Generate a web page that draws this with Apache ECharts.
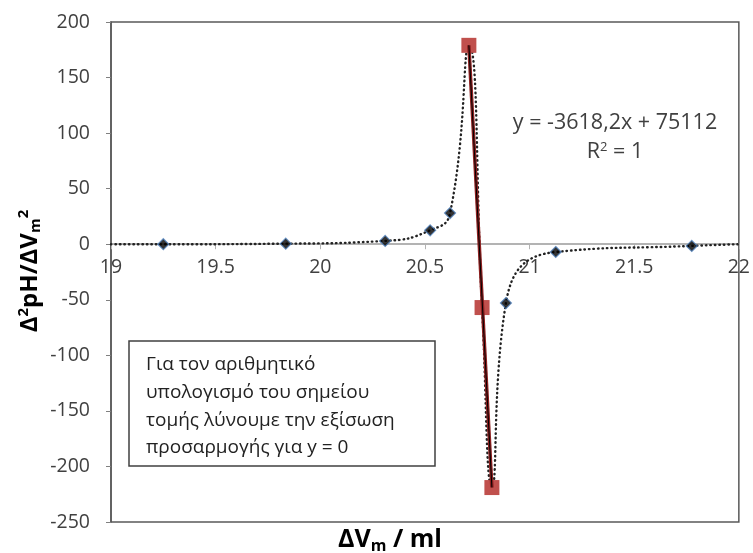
<!DOCTYPE html>
<html>
<head>
<meta charset="utf-8">
<script src="https://cdn.jsdelivr.net/npm/echarts@6/dist/echarts.min.js"></script>
<style>html,body{margin:0;padding:0;background:#fff}#c{width:753px;height:553px}</style>
</head>
<body>
<div id="c"></div>
<script>
// Data
const blueX = [19.25, 19.835, 20.31, 20.525, 20.62, 20.887, 21.125, 21.775];
const blueY = [0, 0.5, 3, 12.5, 28, -53, -7, -1.5];
const redX = [20.71, 20.773, 20.82];
const redY = [179, -57, -219];
const curveX = [19, 19.25, 19.835, 20.31, 20.525, 20.62, 20.71, 20.773, 20.82, 20.887, 21.125, 21.775, 22];
const curveY = [0, 0, 0.5, 3, 12.5, 28, 179, -57, -219, -53, -7, -1.5, 0];
const trend = {slope: -3618.2, intercept: 75112};
const eqText = 'y = -3618,2x + 75112';
const boxLines = ['Για τον αριθμητικό', 'υπολογισμό του σημείου', 'τομής λύνουμε την εξίσωση', 'προσαρμογής για y = 0'];
const xTicks = {min: 19, max: 22, interval: 0.5};
const yTicks = {min: -250, max: 200, interval: 50};

const zip = (a, b) => a.map((v, i) => [v, b[i]]);
const tx0 = Math.min(...redX), tx1 = Math.max(...redX);
const trendData = [[tx0, trend.slope * tx0 + trend.intercept], [tx1, trend.slope * tx1 + trend.intercept]];

const FONT = '"Open Sans", sans-serif';
const GRID = {left: 111, right: 11, top: 22, bottom: 31};
const plotH = 553 - GRID.top - GRID.bottom;
// offset that moves the bottom x axis up to the y = 0 line
const zeroOffset = -plotH * (0 - yTicks.min) / (yTicks.max - yTicks.min);

const chart = echarts.init(document.getElementById('c'), null, {renderer: 'canvas'});
chart.setOption({
  animation: false,
  grid: Object.assign({show: true, borderColor: '#595959', borderWidth: 1.5, backgroundColor: '#fff'}, GRID),
  xAxis: {
    type: 'value', min: xTicks.min, max: xTicks.max, interval: xTicks.interval,
    position: 'bottom', offset: zeroOffset,
    axisLine: {onZero: false, lineStyle: {color: '#b3b3b3', width: 2}},
    axisTick: {show: true, length: 5, lineStyle: {color: '#b3b3b3'}},
    axisLabel: {color: '#404040', fontSize: 19.5, fontFamily: FONT, margin: 13, showMinLabel: true, showMaxLabel: true},
    splitLine: {show: false}
  },
  yAxis: {
    type: 'value', min: yTicks.min, max: yTicks.max, interval: yTicks.interval,
    axisLine: {onZero: false, lineStyle: {color: '#595959', width: 1.5}},
    axisTick: {show: true, length: 5, lineStyle: {color: '#808080'}},
    axisLabel: {color: '#404040', fontSize: 19.5, fontFamily: FONT, margin: 21},
    splitLine: {show: false}
  },
  series: [
    {type: 'line', data: zip(curveX, curveY), showSymbol: false, smooth: 0.5,
     lineStyle: {color: '#222', width: 2.4, type: [0.5, 4], cap: 'round'}, z: 2},
    {type: 'scatter', data: zip(blueX, blueY), symbol: 'diamond', symbolSize: 11,
     itemStyle: {color: '#000', borderColor: '#4f81bd', borderWidth: 1.2}, z: 3},
    {type: 'scatter', data: zip(redX, redY), symbol: 'rect', symbolSize: 15,
     itemStyle: {color: '#c0504d', opacity: 1}, z: 4},
    {type: 'line', data: trendData, showSymbol: false, lineStyle: {color: '#8b1f1f', width: 3.5}, z: 5},
    {type: 'line', data: trendData, showSymbol: false, lineStyle: {color: '#000', width: 1}, z: 6}
  ],
  graphic: [
    {type: 'text', x: 30, y: 271, rotation: Math.PI / 2, style: {
      rich: {
        b: {fontSize: 24, fontWeight: 'bold', fontFamily: FONT, fill: '#000'},
        sup: {fontSize: 15, fontWeight: 'bold', fontFamily: FONT, fill: '#000', padding: [0, 0, 12, 0]},
        sub: {fontSize: 15, fontWeight: 'bold', fontFamily: FONT, fill: '#000', padding: [12, 0, 0, 0]}
      },
      text: '{b|Δ}{sup|2}{b|pH/ΔV}{sub|m}{sup|2}', align: 'center', verticalAlign: 'middle'
    }},
    {type: 'text', x: 390, y: 540, style: {
      rich: {
        b: {fontSize: 25, fontWeight: 'bold', fontFamily: FONT, fill: '#000'},
        sub: {fontSize: 16, fontWeight: 'bold', fontFamily: FONT, fill: '#000', padding: [12, 0, 0, 0]}
      },
      text: '{b|ΔV}{sub|m}{b| / ml}', align: 'center', verticalAlign: 'middle'
    }},
    {type: 'text', x: 615, y: 123, style: {text: eqText, fontSize: 21.5, fontFamily: FONT, fill: '#404040', align: 'center', verticalAlign: 'middle'}},
    {type: 'text', x: 615, y: 152, style: {
      rich: {n: {fontSize: 21.5, fontFamily: FONT, fill: '#404040'}, s: {fontSize: 13, fontFamily: FONT, fill: '#404040', padding: [0, 0, 10, 0]}},
      text: '{n|R}{s|2}{n| = 1}', align: 'center', verticalAlign: 'middle'}},
    {type: 'rect', shape: {x: 129, y: 341, width: 306, height: 125}, style: {fill: '#fff', stroke: '#404040', lineWidth: 1.5}, z: 10},
    {type: 'text', x: 146, y: 351, z: 11, style: {text: boxLines.join('\n'), fontSize: 19, lineHeight: 27.7, fontFamily: FONT, fill: '#222', align: 'left', verticalAlign: 'top'}}
  ]
});
</script>
</body>
</html>
